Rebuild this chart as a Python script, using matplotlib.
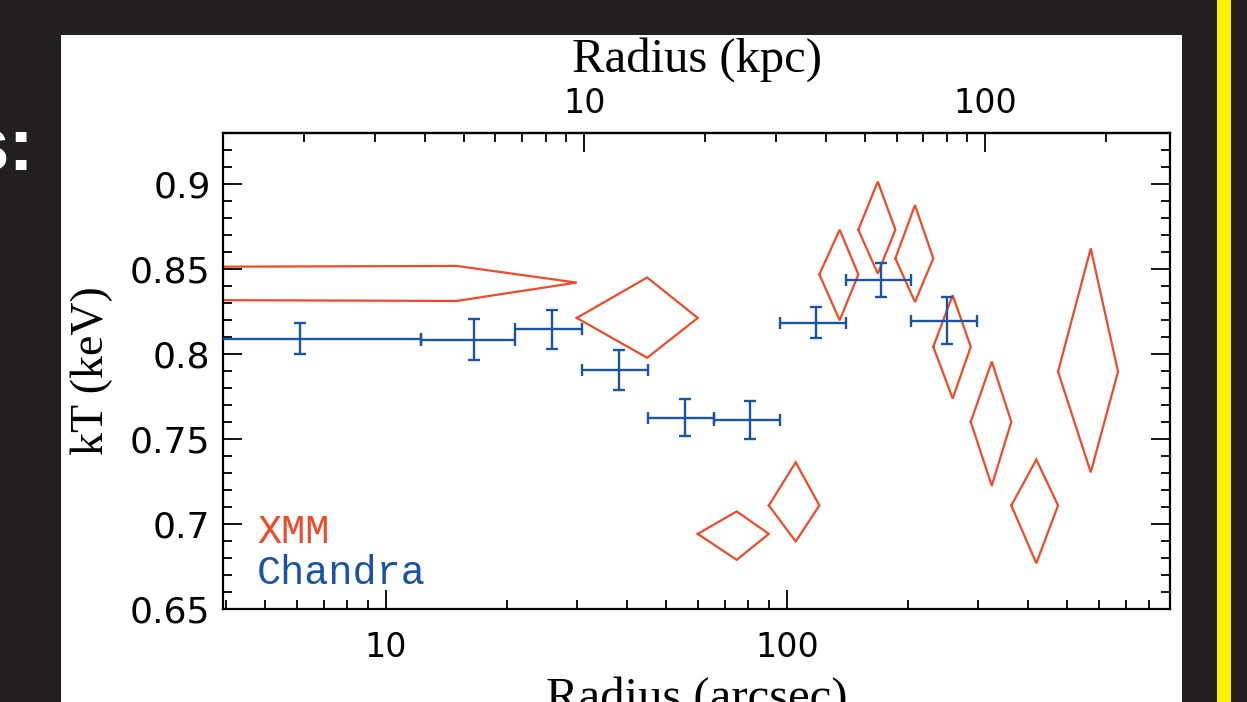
import numpy as np
import matplotlib
matplotlib.use("Agg")
import matplotlib.pyplot as plt
from matplotlib.patches import Rectangle
from matplotlib.ticker import FixedLocator, FuncFormatter, LogLocator, NullFormatter, MultipleLocator

# ---------------- data ----------------
# Chandra: radius bins (arcsec) and temperatures (keV)
chandra_r = [6.1, 16.6, 25.9, 38.0, 55.6, 81.0, 118.1, 171.9, 250.2]
chandra_rlo = [0.01, 12.2, 21.0, 30.8, 45.0, 65.9, 96.0, 140.1, 203.5]
chandra_rhi = [12.2, 21.0, 30.8, 45.0, 65.9, 96.0, 140.1, 203.5, 297.2]
chandra_kt = [0.8089, 0.8083, 0.8146, 0.7904, 0.7626, 0.7612, 0.8185, 0.8436, 0.8197]
chandra_kterr = [0.0091, 0.0121, 0.0115, 0.0117, 0.0110, 0.0114, 0.0093, 0.0100, 0.0137]

# XMM: radius bins (arcsec) and temperatures with asymmetric errors (keV)
xmm_rlo = [1e-12, 29.9, 59.9, 90.1, 120.4, 150.6, 186.3, 231.6, 287.2, 362.5, 474.1]
xmm_r = [15.0, 44.8, 74.9, 105.1, 135.3, 168.4, 208.5, 258.9, 324.0, 418.5, 572.0]
xmm_rhi = [29.9, 59.9, 90.1, 120.4, 150.6, 186.3, 231.6, 287.2, 362.5, 474.1, 669.0]
xmm_kt = [0.8420, 0.8212, 0.6942, 0.7109, 0.8468, 0.8731, 0.8562, 0.8043, 0.7601, 0.7109, 0.7896]
xmm_up = [0.0098, 0.0238, 0.0132, 0.0254, 0.0263, 0.0283, 0.0314, 0.0303, 0.0354, 0.0270, 0.0725]
xmm_dn = [0.0108, 0.0234, 0.0153, 0.0212, 0.0270, 0.0258, 0.0256, 0.0305, 0.0376, 0.0340, 0.0592]

kpc_per_arcsec = 0.32
x_ticks = [10, 100]
kpc_ticks = [10, 100]
y_ticks = [0.65, 0.70, 0.75, 0.80, 0.85, 0.90]

# ---------------- styling ----------------
W, H = 1247, 702
BG = "#231f20"
RED = "#f04b28"
BLUE = "#1a55a5"
YELLOW = "#fff200"
SERIF = ["Liberation Serif", "DejaVu Serif"]
SANS = ["DejaVu Sans"]
MONO = ["Liberation Mono", "DejaVu Sans Mono"]

fig = plt.figure(figsize=(W / 100, H / 100), dpi=100, facecolor=BG)

# slide decorations
fig.patches.append(Rectangle((61 / W, 0), (1182 - 61) / W, (702 - 35) / H,
                             transform=fig.transFigure, facecolor="white",
                             edgecolor="none", zorder=-10))
fig.patches.append(Rectangle((1217 / W, 0), (1231 - 1217) / W, 1,
                             transform=fig.transFigure, facecolor=YELLOW,
                             edgecolor="none", zorder=-10))
fig.text(34 / W, 1 - 170 / H, "s:", color="white", fontsize=55,
         fontweight="bold", family=["Liberation Sans", "DejaVu Sans"],
         ha="right", va="baseline")

ax_l, ax_r, ax_t, ax_b = 223, 1170, 133, 609
ax = fig.add_axes([ax_l / W, 1 - ax_b / H, (ax_r - ax_l) / W, (ax_b - ax_t) / H])
ax.set_zorder(5)
ax.set_facecolor("white")
ax.set_xscale("log")

# Chandra crosses
r = np.array(chandra_r)
ax.errorbar(r, chandra_kt,
            xerr=[r - np.array(chandra_rlo), np.array(chandra_rhi) - r],
            yerr=chandra_kterr, fmt="none", ecolor=BLUE, elinewidth=1.7,
            capsize=4.6, capthick=1.7, zorder=3)

# XMM diamonds
for lo, c, hi, kt, up, dn in zip(xmm_rlo, xmm_r, xmm_rhi, xmm_kt, xmm_up, xmm_dn):
    ax.plot([lo, c, hi, c, lo], [kt, kt + up, kt, kt - dn, kt],
            color=RED, lw=1.6, solid_joinstyle="miter", zorder=2)

ax.set_xlim(3.922, 901.6)
ax.set_ylim(0.65, 0.93)

for s in ax.spines.values():
    s.set_linewidth(1.6)
    s.set_color("black")

fmt = FuncFormatter(lambda v, p: f"{v:g}")
ax.xaxis.set_major_locator(FixedLocator(x_ticks))
ax.xaxis.set_major_formatter(fmt)
ax.xaxis.set_minor_locator(LogLocator(base=10, subs=np.arange(2, 10), numticks=30))
ax.xaxis.set_minor_formatter(NullFormatter())
ax.yaxis.set_major_locator(FixedLocator(y_ticks))
ax.yaxis.set_major_formatter(fmt)
ax.yaxis.set_minor_locator(MultipleLocator(0.01))

ax.tick_params(axis="x", which="both", direction="in", top=False, bottom=True)
ax.tick_params(axis="y", which="both", direction="in", left=True, right=True)
ax.tick_params(which="major", length=13.7, width=1.3, color="black")
ax.tick_params(which="minor", length=6.8, width=1.3, color="black")
ax.tick_params(axis="x", which="major", pad=16, labelsize=24)
ax.tick_params(axis="y", which="major", pad=9, labelsize=26)
for lab in ax.get_xticklabels() + ax.get_yticklabels():
    lab.set_family(SANS)

sec = ax.secondary_xaxis("top", functions=(lambda x: x * kpc_per_arcsec,
                                           lambda x: x / kpc_per_arcsec))
sec.xaxis.set_major_locator(FixedLocator(kpc_ticks))
sec.xaxis.set_major_formatter(fmt)
sec.xaxis.set_minor_locator(LogLocator(base=10, subs=np.arange(2, 10), numticks=30))
sec.xaxis.set_minor_formatter(NullFormatter())
sec.tick_params(which="major", direction="in", length=13.7, width=1.3, pad=9, labelsize=24)
sec.tick_params(which="minor", direction="in", length=6.8, width=1.3)
sec.spines["top"].set_linewidth(1.6)
for lab in sec.get_xticklabels():
    lab.set_family(SANS)

# axis labels
ax.set_xlabel("Radius (arcsec)", fontsize=35, family=SERIF, va="top")
ax.xaxis.set_label_coords(0.5, (ax_b - 676) / (ax_b - ax_t), transform=ax.transAxes)
sec.set_xlabel("Radius (kpc)", fontsize=35, family=SERIF, va="baseline")
sec.xaxis.set_label_coords(0.5, (ax_b - 72) / (ax_b - ax_t), transform=ax.transAxes)
ax.set_ylabel("kT (keV)", fontsize=33, family=SERIF, rotation=90,
              rotation_mode="anchor", ha="center", va="baseline")
ax.yaxis.set_label_coords((103 - ax_l) / (ax_r - ax_l), 0.5, transform=ax.transAxes)

# legend texts
ax.text((257 - ax_l) / (ax_r - ax_l), (ax_b - 543) / (ax_b - ax_t), "XMM",
        transform=ax.transAxes, color=RED, fontsize=29, family=MONO,
        ha="left", va="baseline")
ax.text((257 - ax_l) / (ax_r - ax_l), (ax_b - 584) / (ax_b - ax_t), "Chandra",
        transform=ax.transAxes, color=BLUE, fontsize=29, family=MONO,
        ha="left", va="baseline")

fig.savefig("out.png", dpi=100, facecolor=BG)
